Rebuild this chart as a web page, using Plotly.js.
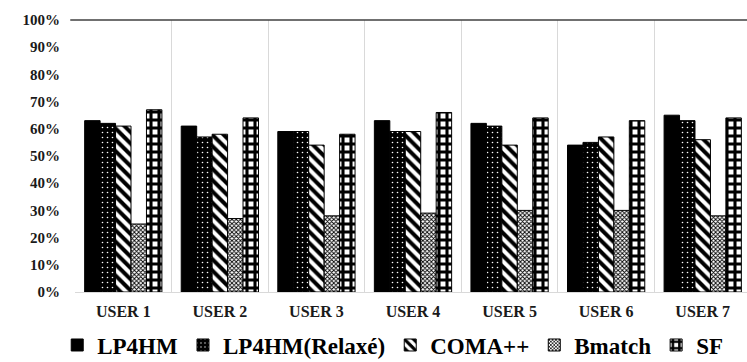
<!DOCTYPE html>
<html>
<head>
<meta charset="utf-8">
<script src="https://cdn.plot.ly/plotly-3.0.1.min.js"></script>
<style>html,body{margin:0;padding:0;overflow:hidden;background:#fff;}</style>
</head>
<body>
<div id="chart" style="width:752px;height:372px;"></div>
<script>
const categories = ["USER 1","USER 2","USER 3","USER 4","USER 5","USER 6","USER 7"];
const lp4hm        = [63, 61, 59, 63, 62, 54, 65];
const lp4hmRelaxe  = [62, 57, 59, 59, 61, 55, 63];
const comapp       = [61, 58, 54, 59, 54, 57, 56];
const bmatch       = [25, 27, 28, 29, 30, 30, 28];
const sf           = [67, 64, 58, 66, 64, 63, 64];
const seriesNames  = ["LP4HM", "LP4HM(Relaxé)", "COMA++", "Bmatch", "SF"];
const yTickVals    = [0,10,20,30,40,50,60,70,80,90,100];
const yTickText    = ["0%","10%","20%","30%","40%","50%","60%","70%","80%","90%","100%"];

const SERIF = "Times New Roman, Liberation Serif, serif";

const patterns = [
  {shape: "", bgcolor: "#000"},
  {shape: ".", bgcolor: "#000", fgcolor: "#fff", size: 5, solidity: 0.08},
  {shape: "\\", bgcolor: "#fff", fgcolor: "#000", size: 8, solidity: 0.5},
  {shape: "x", bgcolor: "#fff", fgcolor: "#000", size: 3, solidity: 0.5},
  {shape: "+", bgcolor: "#fff", fgcolor: "#000", size: 8, solidity: 0.62}
];
const values = [lp4hm, lp4hmRelaxe, comapp, bmatch, sf];

const traces = values.map((v, i) => ({
  type: "bar",
  name: seriesNames[i],
  x: categories,
  y: v,
  marker: {
    color: i === 0 ? "#000" : "#fff",
    line: {color: "#000", width: 1},
    pattern: patterns[i]
  }
}));

const layout = {
  width: 752, height: 372,
  margin: {l: 75, r: 1, t: 20, b: 80},
  barmode: "group",
  bargap: 0.2,
  bargroupgap: 0,
  paper_bgcolor: "#fff",
  plot_bgcolor: "#fff",
  font: {family: SERIF, color: "#1a1a1a"},
  xaxis: {
    tickson: "boundaries",
    showgrid: true,
    gridcolor: "#d9d9d9",
    gridwidth: 1,
    ticks: "",
    showline: true,
    linecolor: "#d9d9d9",
    tickfont: {family: SERIF, size: 16, color: "#1a1a1a", weight: "bold"},
    ticklabelstandoff: 5
  },
  yaxis: {
    range: [0, 100],
    tickvals: yTickVals,
    ticktext: yTickText,
    showgrid: false,
    zeroline: false,
    showline: false,
    ticks: "",
    tickfont: {family: SERIF, size: 15, color: "#1a1a1a", weight: "bold"},
    ticklabelstandoff: 14
  },
  shapes: [
    {type: "line", xref: "paper", yref: "paper", x0: -0.007, x1: 1, y0: 1, y1: 1,
     line: {color: "#404040", width: 1.5}}
  ],
  legend: {
    orientation: "h",
    x: 0.47, xanchor: "center",
    y: -0.195, yanchor: "middle",
    font: {family: SERIF, size: 23, color: "#000", weight: "bold"},
    itemwidth: 20,
    tracegroupgap: 0
  },
  showlegend: true
};

Plotly.newPlot("chart", traces, layout, {displayModeBar: false, staticPlot: true});
</script>
</body>
</html>
